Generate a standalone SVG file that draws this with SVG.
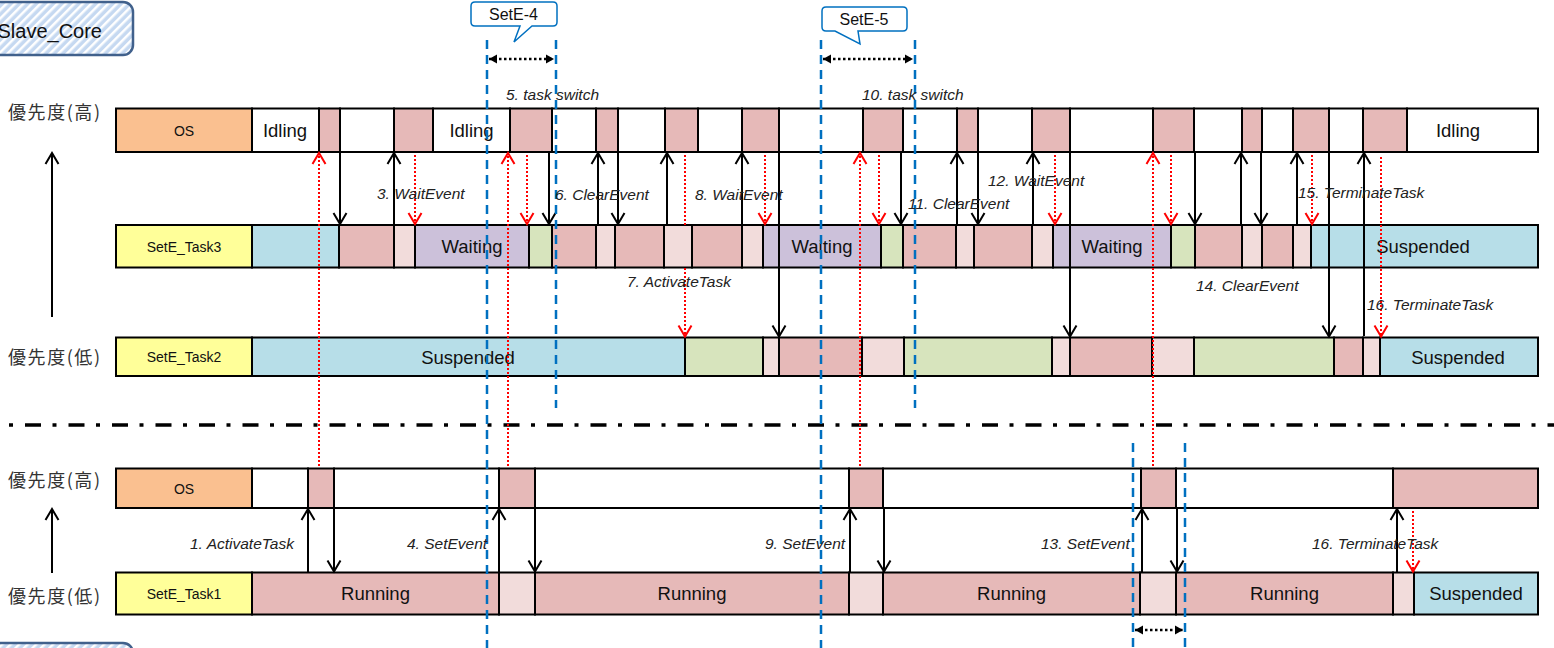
<svg xmlns="http://www.w3.org/2000/svg" width="1554" height="648" viewBox="0 0 1554 648">
<style>
.s{stroke:#000;stroke-width:2}
.w{fill:#fff}.p{fill:#E6B9B8}.lp{fill:#F2DCDB}.c{fill:#B7DEE8}.pu{fill:#CCC1DA}.g{fill:#D7E4BD}.o{fill:#FAC090}.y{fill:#FFFF99}
.st{font-family:"Liberation Sans",Arial,sans-serif;font-size:18.5px;text-anchor:middle;dominant-baseline:central;fill:#111}
.lb{font-size:14px}
.it{font-family:"Liberation Sans",Arial,sans-serif;font-style:italic;font-size:15.5px;fill:#222}
.jp{font-family:"Noto Sans CJK JP","Noto Sans CJK SC",sans-serif;font-size:18px;fill:#333;dominant-baseline:central}
.bk{stroke:#000;stroke-width:2;fill:none}
.rd{stroke:#FF0000;stroke-width:2;stroke-dasharray:2 2;fill:none}
.bl{stroke:#0070C0;stroke-width:2.5;stroke-dasharray:9 6;fill:none}
.dd{stroke:#000;stroke-width:2.5;stroke-dasharray:2.5 2.5;fill:none}
.call{fill:#fff;stroke:#0070C0;stroke-width:1.5}
.ct{font-family:"Liberation Sans",Arial,sans-serif;font-size:16px;text-anchor:middle;dominant-baseline:central;fill:#111}
</style>
<defs>
<pattern id="hatch" patternUnits="userSpaceOnUse" width="6" height="6" patternTransform="rotate(45)">
<rect width="6" height="6" fill="#C6D9F1"/><rect width="2.5" height="6" fill="#fff"/>
</pattern>
<marker id="ab" viewBox="-13 -8 17 16" refX="0" refY="0" markerWidth="17" markerHeight="16" orient="auto" markerUnits="userSpaceOnUse"><path d="M-11,-6.5 L0,0 L-11,6.5" fill="none" stroke="#000" stroke-width="2"/></marker>
<marker id="ar" viewBox="-13 -8 17 16" refX="0" refY="0" markerWidth="17" markerHeight="16" orient="auto" markerUnits="userSpaceOnUse"><path d="M-11,-6.5 L0,0 L-11,6.5" fill="none" stroke="#FF0000" stroke-width="2"/></marker>
<marker id="at" viewBox="-9 -5 10 10" refX="0" refY="0" markerWidth="10" markerHeight="10" orient="auto-start-reverse" markerUnits="userSpaceOnUse"><path d="M0,0 L-8,-4.5 L-8,4.5 Z" fill="#000"/></marker>
</defs>

<g id="slave-core-top">
<rect x="-20" y="2" width="153" height="53" rx="10" fill="url(#hatch)" stroke="#41618C" stroke-width="2.5"/>
<text x="102" y="38" text-anchor="end" font-family="Liberation Sans, Arial, sans-serif" font-size="20" fill="#111">Slave_Core</text>
</g>
<g id="slave-core-bottom">
<rect x="-20" y="643" width="153" height="53" rx="10" fill="url(#hatch)" stroke="#41618C" stroke-width="2.5"/>
</g>

<g id="priority-labels">
<text class="jp" x="8" y="111" textLength="92">優先度(高)</text>
<text class="jp" x="8" y="356" textLength="92">優先度(低)</text>
<text class="jp" x="8" y="479" textLength="92">優先度(高)</text>
<text class="jp" x="8" y="595" textLength="92">優先度(低)</text>
<line class="bk" x1="52" y1="317" x2="52" y2="153" marker-end="url(#ab)"/>
<line class="bk" x1="52" y1="573" x2="52" y2="509" marker-end="url(#ab)"/>
</g>

<g id="os-top">
<rect class="s o" x="116" y="108.5" width="136" height="43.5"/>
<rect class="s w" x="252" y="108.5" width="67" height="43.5"/>
<rect class="s p" x="319" y="108.5" width="21" height="43.5"/>
<rect class="s w" x="340" y="108.5" width="54" height="43.5"/>
<rect class="s p" x="394" y="108.5" width="39" height="43.5"/>
<rect class="s w" x="433" y="108.5" width="77" height="43.5"/>
<rect class="s p" x="510" y="108.5" width="42" height="43.5"/>
<rect class="s w" x="552" y="108.5" width="44" height="43.5"/>
<rect class="s p" x="596" y="108.5" width="22" height="43.5"/>
<rect class="s w" x="618" y="108.5" width="47" height="43.5"/>
<rect class="s p" x="665" y="108.5" width="33" height="43.5"/>
<rect class="s w" x="698" y="108.5" width="44" height="43.5"/>
<rect class="s p" x="742" y="108.5" width="37" height="43.5"/>
<rect class="s w" x="779" y="108.5" width="84" height="43.5"/>
<rect class="s p" x="863" y="108.5" width="40" height="43.5"/>
<rect class="s w" x="903" y="108.5" width="54" height="43.5"/>
<rect class="s p" x="957" y="108.5" width="21" height="43.5"/>
<rect class="s w" x="978" y="108.5" width="54" height="43.5"/>
<rect class="s p" x="1032" y="108.5" width="38" height="43.5"/>
<rect class="s w" x="1070" y="108.5" width="83" height="43.5"/>
<rect class="s p" x="1153" y="108.5" width="41" height="43.5"/>
<rect class="s w" x="1194" y="108.5" width="48" height="43.5"/>
<rect class="s p" x="1242" y="108.5" width="20" height="43.5"/>
<rect class="s w" x="1262" y="108.5" width="31" height="43.5"/>
<rect class="s p" x="1293" y="108.5" width="36" height="43.5"/>
<rect class="s w" x="1329" y="108.5" width="34" height="43.5"/>
<rect class="s p" x="1363" y="108.5" width="44" height="43.5"/>
<rect class="s w" x="1407" y="108.5" width="131" height="43.5"/>
<text class="st lb" x="184" y="130.5">OS</text>
<text class="st" x="285" y="130.5">Idling</text>
<text class="st" x="471.5" y="130.5">Idling</text>
<text class="st" x="1458" y="130.5">Idling</text>
</g>

<g id="task3">
<rect class="s y" x="116" y="225" width="136" height="42.5"/>
<rect class="s c" x="252" y="225" width="87" height="42.5"/>
<rect class="s p" x="339" y="225" width="55" height="42.5"/>
<rect class="s lp" x="394" y="225" width="21" height="42.5"/>
<rect class="s pu" x="415" y="225" width="114" height="42.5"/>
<rect class="s g" x="529" y="225" width="23" height="42.5"/>
<rect class="s p" x="552" y="225" width="44" height="42.5"/>
<rect class="s lp" x="596" y="225" width="19" height="42.5"/>
<rect class="s p" x="615" y="225" width="49" height="42.5"/>
<rect class="s lp" x="664" y="225" width="28" height="42.5"/>
<rect class="s p" x="692" y="225" width="50" height="42.5"/>
<rect class="s lp" x="742" y="225" width="21" height="42.5"/>
<rect class="s pu" x="763" y="225" width="118" height="42.5"/>
<rect class="s g" x="881" y="225" width="22" height="42.5"/>
<rect class="s p" x="903" y="225" width="53" height="42.5"/>
<rect class="s lp" x="956" y="225" width="18" height="42.5"/>
<rect class="s p" x="974" y="225" width="58" height="42.5"/>
<rect class="s lp" x="1032" y="225" width="21" height="42.5"/>
<rect class="s pu" x="1053" y="225" width="118" height="42.5"/>
<rect class="s g" x="1171" y="225" width="24" height="42.5"/>
<rect class="s p" x="1195" y="225" width="47" height="42.5"/>
<rect class="s lp" x="1242" y="225" width="20" height="42.5"/>
<rect class="s p" x="1262" y="225" width="31" height="42.5"/>
<rect class="s lp" x="1293" y="225" width="18" height="42.5"/>
<rect class="s c" x="1311" y="225" width="227" height="42.5"/>
<text class="st lb" x="184" y="246.5">SetE_Task3</text>
<text class="st" x="472" y="246.5">Waiting</text>
<text class="st" x="822" y="246.5">Waiting</text>
<text class="st" x="1112" y="246.5">Waiting</text>
<text class="st" x="1423" y="246.5">Suspended</text>
</g>

<g id="task2">
<rect class="s y" x="116" y="337.5" width="136" height="38.5"/>
<rect class="s c" x="252" y="337.5" width="433" height="38.5"/>
<rect class="s g" x="685" y="337.5" width="78" height="38.5"/>
<rect class="s lp" x="763" y="337.5" width="16" height="38.5"/>
<rect class="s p" x="779" y="337.5" width="83" height="38.5"/>
<rect class="s lp" x="862" y="337.5" width="42" height="38.5"/>
<rect class="s g" x="904" y="337.5" width="148" height="38.5"/>
<rect class="s lp" x="1052" y="337.5" width="18" height="38.5"/>
<rect class="s p" x="1070" y="337.5" width="82" height="38.5"/>
<rect class="s lp" x="1152" y="337.5" width="42" height="38.5"/>
<rect class="s g" x="1194" y="337.5" width="140" height="38.5"/>
<rect class="s p" x="1334" y="337.5" width="29" height="38.5"/>
<rect class="s lp" x="1363" y="337.5" width="17" height="38.5"/>
<rect class="s c" x="1380" y="337.5" width="158" height="38.5"/>
<text class="st lb" x="184" y="357">SetE_Task2</text>
<text class="st" x="468" y="357">Suspended</text>
<text class="st" x="1458" y="357">Suspended</text>
</g>

<g id="os-bottom">
<rect class="s o" x="116" y="468.5" width="136" height="39.5"/>
<rect class="s w" x="252" y="468.5" width="56" height="39.5"/>
<rect class="s p" x="308" y="468.5" width="26" height="39.5"/>
<rect class="s w" x="334" y="468.5" width="165" height="39.5"/>
<rect class="s p" x="499" y="468.5" width="36" height="39.5"/>
<rect class="s w" x="535" y="468.5" width="314" height="39.5"/>
<rect class="s p" x="849" y="468.5" width="34" height="39.5"/>
<rect class="s w" x="883" y="468.5" width="258" height="39.5"/>
<rect class="s p" x="1141" y="468.5" width="35" height="39.5"/>
<rect class="s w" x="1176" y="468.5" width="217" height="39.5"/>
<rect class="s p" x="1393" y="468.5" width="145" height="39.5"/>
<text class="st lb" x="184" y="488.5">OS</text>
</g>

<g id="task1">
<rect class="s y" x="116" y="572.5" width="136" height="42"/>
<rect class="s p" x="252" y="572.5" width="247" height="42"/>
<rect class="s lp" x="499" y="572.5" width="36" height="42"/>
<rect class="s p" x="535" y="572.5" width="314" height="42"/>
<rect class="s lp" x="849" y="572.5" width="34" height="42"/>
<rect class="s p" x="883" y="572.5" width="257" height="42"/>
<rect class="s lp" x="1140" y="572.5" width="36" height="42"/>
<rect class="s p" x="1176" y="572.5" width="217" height="42"/>
<rect class="s lp" x="1393" y="572.5" width="21" height="42"/>
<rect class="s c" x="1414" y="572.5" width="124" height="42"/>
<text class="st lb" x="184" y="593.5">SetE_Task1</text>
<text class="st" x="375.5" y="593.5">Running</text>
<text class="st" x="692" y="593.5">Running</text>
<text class="st" x="1011.5" y="593.5">Running</text>
<text class="st" x="1284.5" y="593.5">Running</text>
<text class="st" x="1476" y="593.5">Suspended</text>
</g>

<g id="callout-sete4">
<path class="call" d="M475,2 H553 Q557,2 557,6 V22 Q557,26 553,26 H532 L514,42 L520,26 H475 Q471,26 471,22 V6 Q471,2 475,2 Z"/>
<text class="ct" x="513.5" y="14">SetE-4</text>
</g>
<g id="callout-sete5">
<path class="call" d="M826,7 H903 Q907,7 907,11 V27 Q907,31 903,31 H858 L860,44 L835,31 H826 Q822,31 822,27 V11 Q822,7 826,7 Z"/>
<text class="ct" x="864" y="19">SetE-5</text>
</g>

<g id="connectors">
<line x1="9" y1="425" x2="1554" y2="425" stroke="#000" stroke-width="3.5" stroke-dasharray="4 12 16 11.5"/>
<line class="bk" x1="394" y1="225" x2="394" y2="153" marker-end="url(#ab)"/>
<line class="bk" x1="598" y1="225" x2="598" y2="153" marker-end="url(#ab)"/>
<line class="bk" x1="667" y1="225" x2="667" y2="153" marker-end="url(#ab)"/>
<line class="bk" x1="742" y1="225" x2="742" y2="153" marker-end="url(#ab)"/>
<line class="bk" x1="957" y1="225" x2="957" y2="153" marker-end="url(#ab)"/>
<line class="bk" x1="1033" y1="225" x2="1033" y2="153" marker-end="url(#ab)"/>
<line class="bk" x1="1241" y1="225" x2="1241" y2="153" marker-end="url(#ab)"/>
<line class="bk" x1="1297" y1="225" x2="1297" y2="153" marker-end="url(#ab)"/>
<line class="bk" x1="1364" y1="336" x2="1364" y2="153" marker-end="url(#ab)"/>
<line class="bk" x1="340" y1="152" x2="340" y2="224" marker-end="url(#ab)"/>
<line class="bk" x1="549" y1="152" x2="549" y2="224" marker-end="url(#ab)"/>
<line class="bk" x1="618" y1="152" x2="618" y2="224" marker-end="url(#ab)"/>
<line class="bk" x1="901" y1="152" x2="901" y2="224" marker-end="url(#ab)"/>
<line class="bk" x1="978" y1="152" x2="978" y2="224" marker-end="url(#ab)"/>
<line class="bk" x1="1195" y1="152" x2="1195" y2="224" marker-end="url(#ab)"/>
<line class="bk" x1="1261" y1="152" x2="1261" y2="224" marker-end="url(#ab)"/>
<line class="bk" x1="779" y1="152" x2="779" y2="336.5" marker-end="url(#ab)"/>
<line class="bk" x1="1070" y1="152" x2="1070" y2="336.5" marker-end="url(#ab)"/>
<line class="bk" x1="1329" y1="152" x2="1329" y2="336.5" marker-end="url(#ab)"/>
<line class="rd" x1="415" y1="155" x2="415" y2="224" marker-end="url(#ar)"/>
<line class="rd" x1="527" y1="155" x2="527" y2="224" marker-end="url(#ar)"/>
<line class="rd" x1="765" y1="155" x2="765" y2="224" marker-end="url(#ar)"/>
<line class="rd" x1="879" y1="155" x2="879" y2="224" marker-end="url(#ar)"/>
<line class="rd" x1="1055" y1="155" x2="1055" y2="224" marker-end="url(#ar)"/>
<line class="rd" x1="1171" y1="155" x2="1171" y2="224" marker-end="url(#ar)"/>
<line class="rd" x1="1312" y1="155" x2="1312" y2="224" marker-end="url(#ar)"/>
<line class="rd" x1="685" y1="155" x2="685" y2="225"/>
<line class="rd" x1="685" y1="268" x2="685" y2="336.5" marker-end="url(#ar)"/>
<line class="rd" x1="1381" y1="157" x2="1381" y2="336.5" marker-end="url(#ar)"/>
<line class="rd" x1="319" y1="466" x2="319" y2="153" marker-end="url(#ar)"/>
<line class="rd" x1="508" y1="466" x2="508" y2="153" marker-end="url(#ar)"/>
<line class="rd" x1="860" y1="466" x2="860" y2="153" marker-end="url(#ar)"/>
<line class="rd" x1="1153" y1="466" x2="1153" y2="153" marker-end="url(#ar)"/>
<line class="bk" x1="308" y1="572.5" x2="308" y2="509" marker-end="url(#ab)"/>
<line class="bk" x1="499" y1="572.5" x2="499" y2="509" marker-end="url(#ab)"/>
<line class="bk" x1="850" y1="572.5" x2="850" y2="509" marker-end="url(#ab)"/>
<line class="bk" x1="1142" y1="572.5" x2="1142" y2="509" marker-end="url(#ab)"/>
<line class="bk" x1="1397" y1="572.5" x2="1397" y2="509" marker-end="url(#ab)"/>
<line class="bk" x1="334" y1="508" x2="334" y2="571.5" marker-end="url(#ab)"/>
<line class="bk" x1="535" y1="508" x2="535" y2="571.5" marker-end="url(#ab)"/>
<line class="bk" x1="884" y1="508" x2="884" y2="571.5" marker-end="url(#ab)"/>
<line class="bk" x1="1177" y1="508" x2="1177" y2="571.5" marker-end="url(#ab)"/>
<line class="rd" x1="1413" y1="511" x2="1413" y2="571.5" marker-end="url(#ar)"/>
<line class="bl" x1="487" y1="40" x2="487" y2="648"/>
<line class="bl" x1="556" y1="40" x2="556" y2="408"/>
<line class="bl" x1="821" y1="40" x2="821" y2="648"/>
<line class="bl" x1="915" y1="40" x2="915" y2="408"/>
<line class="bl" x1="1133" y1="443" x2="1133" y2="648"/>
<line class="bl" x1="1185" y1="443" x2="1185" y2="648"/>
<line class="dd" x1="489" y1="59" x2="554" y2="59" marker-start="url(#at)" marker-end="url(#at)"/>
<line class="dd" x1="823" y1="59" x2="913" y2="59" marker-start="url(#at)" marker-end="url(#at)"/>
<line class="dd" x1="1135" y1="630" x2="1183" y2="630" marker-start="url(#at)" marker-end="url(#at)"/>
</g>

<g id="labels">
<text class="it" x="506" y="100">5. task switch</text>
<text class="it" x="862" y="100">10. task switch</text>
<text class="it" x="377" y="199">3. WaitEvent</text>
<text class="it" x="555" y="200">6. ClearEvent</text>
<text class="it" x="695" y="200">8. WaitEvent</text>
<text class="it" x="908" y="209">11. ClearEvent</text>
<text class="it" x="988" y="186">12. WaitEvent</text>
<text class="it" x="1298" y="198">15. TerminateTask</text>
<text class="it" x="627" y="287">7. ActivateTask</text>
<text class="it" x="1196" y="291">14. ClearEvent</text>
<text class="it" x="1367" y="310">16. TerminateTask</text>
<text class="it" x="190" y="549">1. ActivateTask</text>
<text class="it" x="407" y="549">4. SetEvent</text>
<text class="it" x="765" y="549">9. SetEvent</text>
<text class="it" x="1041" y="549">13. SetEvent</text>
<text class="it" x="1312" y="549">16. TerminateTask</text>
</g>
</svg>
